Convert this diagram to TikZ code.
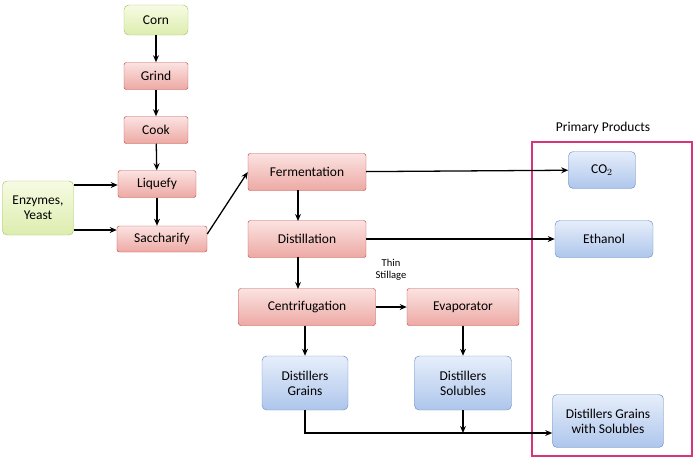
\documentclass[tikz,border=0pt]{standalone}
\usepackage{fontspec}
\setmainfont{Carlito}
\usetikzlibrary{arrows.meta}
\definecolor{redline}{HTML}{C0504D}
\definecolor{redtop}{HTML}{FBE3E1}
\definecolor{redbot}{HTML}{EDA9A4}
\definecolor{blueline}{HTML}{6E90C4}
\definecolor{bluetop}{HTML}{E6EEFA}
\definecolor{bluebot}{HTML}{AEC6EC}
\definecolor{greenline}{HTML}{A8C56B}
\definecolor{greentop}{HTML}{F6FBE3}
\definecolor{greenbot}{HTML}{DDEDAE}
\definecolor{boxpink}{HTML}{D6357E}
\tikzset{
  box/.style={draw, rounded corners=2pt, align=center, inner sep=1pt, font=\fontsize{11.5}{13}\selectfont},
  stepbox/.style={box, draw=redline, top color=redtop, bottom color=redbot},
  productbox/.style={box, draw=blueline, rounded corners=4pt, top color=bluetop, bottom color=bluebot},
  inputbox/.style={box, draw=greenline, rounded corners=4pt, top color=greentop, bottom color=greenbot},
  flow/.style={->, >={Stealth[length=6pt,width=5pt]}, line width=1.1pt}
}
\begin{document}
\begin{tikzpicture}[x=0.03cm, y=-0.03cm]
  \useasboundingbox (0,0) rectangle (700,463);

  \node[inputbox, minimum width=1.92cm, minimum height=0.9cm] (corn) at (156,20) {Corn};
  \node[stepbox, minimum width=1.92cm, minimum height=0.81cm] (grind) at (156,76) {Grind};
  \node[stepbox, minimum width=1.92cm, minimum height=0.81cm] (cook) at (156,130) {Cook};
  \node[stepbox, minimum width=2.34cm, minimum height=0.81cm] (liquefy) at (157,184) {Liquefy};
  \node[stepbox, minimum width=2.7cm, minimum height=0.78cm] (sacch) at (162,239) {Saccharify};
  \node[inputbox, minimum width=2.13cm, minimum height=1.62cm] (enzymes) at (38,208) {Enzymes,\\Yeast};

  \node[stepbox, minimum width=3.54cm, minimum height=1.11cm] (ferm) at (307,172) {Fermentation};
  \node[stepbox, minimum width=3.54cm, minimum height=1.11cm] (dist) at (307,239) {Distillation};
  \node[stepbox, minimum width=4.11cm, minimum height=1.11cm] (centri) at (307,307) {Centrifugation};
  \node[stepbox, minimum width=3.36cm, minimum height=1.11cm] (evap) at (463,307) {Evaporator};
  \node[productbox, minimum width=2.58cm, minimum height=1.62cm] (grains) at (305,383) {Distillers\\Grains};
  \node[productbox, minimum width=2.91cm, minimum height=1.62cm] (solubles) at (463,383) {Distillers\\Solubles};

  \node[productbox, minimum width=2.01cm, minimum height=1.11cm] (co2) at (602,170) {CO$_2$};
  \node[productbox, minimum width=2.94cm, minimum height=1.11cm] (ethanol) at (604,239) {Ethanol};
  \node[productbox, minimum width=3.33cm, minimum height=1.59cm] (dgs) at (608,421) {Distillers Grains\\with Solubles};

  \draw[boxpink, line width=1.3pt] (532,142) rectangle (692,456);
  \node[font=\fontsize{11.5}{13}\selectfont] (primary) at (603,128) {Primary Products};
  \node[font=\fontsize{9}{10}\selectfont, align=center] (thin) at (391,270) {Thin\\Stillage};

  \draw[flow] (corn) -- (grind);
  \draw[flow] (grind) -- (cook);
  \draw[flow] (cook) -- (liquefy);
  \draw[flow] (liquefy) -- (liquefy |- sacch.north);
  \draw[flow] (74,185) -- (liquefy.west |- 0,185);
  \draw[flow] (74,230) -- (sacch.west |- 0,230);
  \draw[flow] (sacch.east) ++(0,-5) -- (ferm.west);
  \draw[flow] (ferm) -- (co2);
  \draw[flow] (dist) -- (ethanol);
  \draw[flow] (298,190) -- (298,221);
  \draw[flow] (298,257) -- (298,289);
  \draw[flow] (centri) -- (evap);
  \draw[flow] (evap) -- (solubles);
  \draw[flow] (grains.north |- centri.south) -- (grains);
  \coordinate (join) at (solubles.south |- 0,433);
  \draw[flow] (grains.south) |- (dgs.west |- join);
  \draw[flow] (solubles.south) -- (join);
\end{tikzpicture}
\end{document}
